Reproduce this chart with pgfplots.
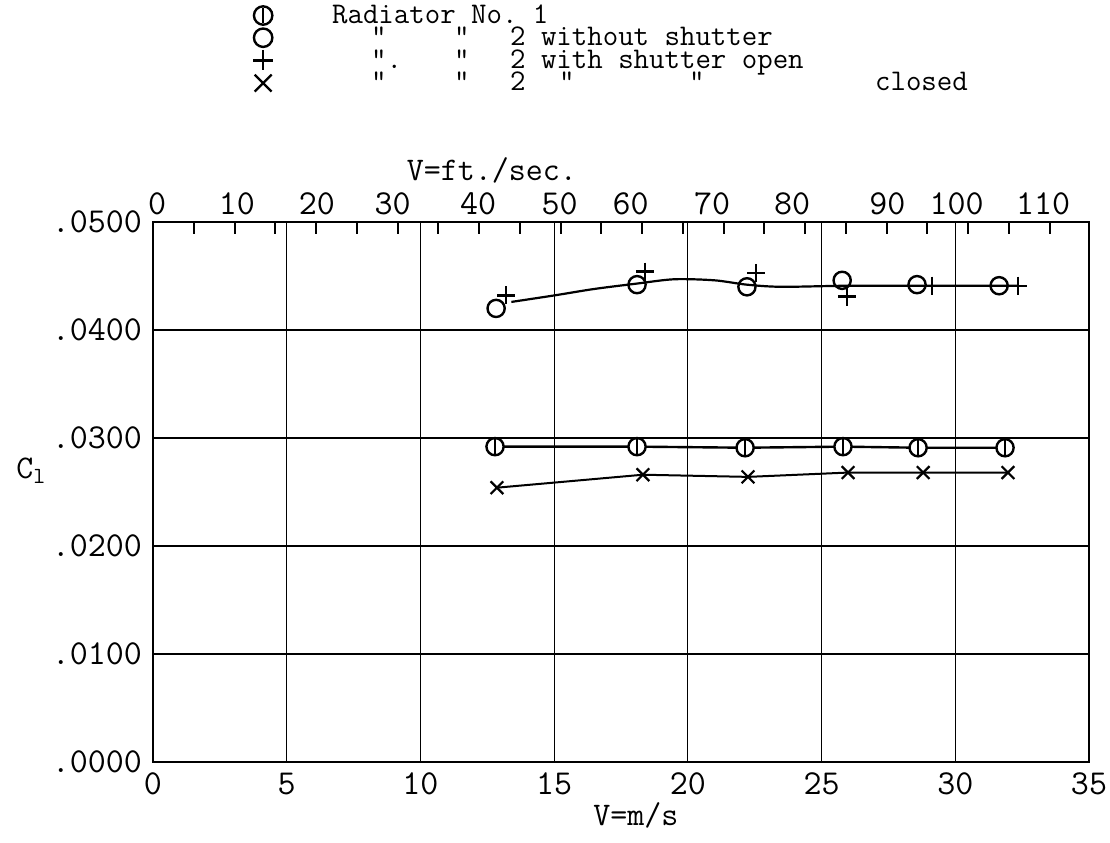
\documentclass[border=0pt]{standalone}
\usepackage{fontspec}
\usepackage{pgfplots}
\pgfplotsset{compat=1.18}
\pgfdeclareplotmark{radone}{%
 \pgfpathcircle{\pgfpointorigin}{\pgfplotmarksize}%
 \pgfusepathqfillstroke
 \pgfpathmoveto{\pgfqpoint{0pt}{-0.85\pgfplotmarksize}}%
 \pgfpathlineto{\pgfqpoint{0pt}{0.85\pgfplotmarksize}}%
 \pgfusepathqstroke}
\pgfplotsset{legmark/.style={legend image code/.code={\draw[##1] plot coordinates {(0pt,0pt)};}}}
\newcommand\at[2]{\makebox[0pt][l]{\hspace*{#1}#2}}
\newcommand\tk{\ttfamily\fontsize{17.5}{17.5}\selectfont}
\newcommand\lb{\ttfamily\fontsize{16.5}{16.5}\selectfont}
\newcommand\lgd{\ttfamily\fontsize{15}{15}\selectfont}
\begin{document}
\begin{tikzpicture}
\useasboundingbox (-76.5pt,-40pt) rectangle (478.5pt,381pt);
\begin{axis}[
  scale only axis, width=468pt, height=270pt,
  xmin=0, xmax=35, ymin=0, ymax=0.05,
  xtick={0,5,...,35}, ytick={0,0.01,0.02,0.03,0.04,0.05},
  xticklabels={0,5,10,15,20,25,30,35},
  yticklabels={.0000,.0100,.0200,.0300,.0400,.0500},
  scaled x ticks=false, scaled y ticks=false,
  major tick length=0pt,
  grid=major, grid style={black, line width=0.6pt},
  axis line style={line width=1.4pt},
  tick label style={font=\tk},
  xticklabel style={yshift=-2pt},
  yticklabel style={xshift=-2pt},
  xlabel={V=m/s}, xlabel style={font=\lb, at={(axis description cs:0.516,-0.098)}, anchor=center},
  ylabel={C\textsubscript{l}}, ylabel style={font=\lb, rotate=-90, at={(axis description cs:-0.13,0.54)}, anchor=center},
  legend style={draw=none, fill=none, at={(axis description cs:0.107,1.40)}, anchor=north west,
    inner sep=0pt, outer sep=0pt, row sep=1.6pt, font=\lgd,
    nodes={inner sep=0pt, text height=8.6pt, text depth=0.9pt},
    /tikz/every odd column/.append style={column sep=29pt}},
  legend cell align=left,
]
% faired curve radiator 2
\addplot[black, line width=1.1pt, smooth, forget plot] coordinates {
 (13.4,0.0426) (15,0.0432) (16.5,0.0438) (18.1,0.0443) (19.5,0.0447) (21,0.0446) (22.2,0.0442) (23.5,0.0440) (26,0.0441) (29,0.0441) (32.3,0.0441)};
% radiator 1
\addplot[black, line width=1.2pt, mark=radone, mark size=4.3pt, mark options={fill=white, line width=1.2pt}, forget plot] coordinates {
 (12.79,0.0292) (18.10,0.0292) (22.14,0.0291) (25.80,0.0292) (28.61,0.0291) (31.86,0.0291)};
% radiator 2 shutter closed
\addplot[black, line width=1.0pt, mark=x, mark size=4.5pt, mark options={line width=1.1pt}, forget plot] coordinates {
 (12.86,0.0254) (18.32,0.0266) (22.25,0.0264) (25.99,0.0268) (28.80,0.0268) (31.97,0.0268)};
% radiator 2 without shutter
\addplot[only marks, black, mark=o, mark size=4.3pt, mark options={fill=white, line width=1.2pt}, forget plot] coordinates {
 (12.83,0.0420) (18.10,0.0442) (22.21,0.0440) (25.77,0.0446) (28.57,0.0442) (31.64,0.0441)};
% radiator 2 shutter open
\addplot[only marks, black, mark=+, mark size=4.5pt, mark options={line width=1.2pt}, forget plot] coordinates {
 (13.20,0.0432) (18.40,0.0454) (22.55,0.0453) (25.95,0.0431) (29.13,0.0441) (32.35,0.0441)};
\addlegendimage{legmark, black, mark=radone, mark size=4.6pt, mark options={fill=white, line width=1.2pt}}
\addlegendentry{\at{0pt}{Radiator No.\ 1}}
\addlegendimage{legmark, black, mark=o, mark size=4.6pt, mark options={line width=1.2pt}}
\addlegendentry{\at{19.5pt}{"}\at{61pt}{"}\at{89pt}{2 without shutter}}
\addlegendimage{legmark, black, mark=+, mark size=5pt, mark options={line width=1.2pt}}
\addlegendentry{\at{19.5pt}{".}\at{61pt}{"}\at{89pt}{2 with shutter open}}
\addlegendimage{legmark, black, mark=x, mark size=6pt, mark options={line width=1.2pt}}
\addlegendentry{\at{19.5pt}{"}\at{61pt}{"}\at{89pt}{2}\at{113.5pt}{"}\at{178.5pt}{"}\at{271.5pt}{closed}}
\end{axis}
% top axis: ticks every 5 ft/s
\begin{axis}[
  scale only axis, width=468pt, height=270pt,
  xmin=0, xmax=114.829, ymin=0, ymax=1,
  axis x line*=top, hide y axis,
  xtick={5,10,...,110}, xticklabels={},
  major tick length=6pt,
  tick align=inside, tick style={black, line width=1pt},
  axis line style={line width=1.4pt},
]
\addplot[draw=none] coordinates {(0,0)};
\end{axis}
% top axis labels as placed on the original drawing
\begin{axis}[
  scale only axis, width=468pt, height=270pt,
  xmin=0, xmax=114.829, ymin=0, ymax=1,
  axis x line*=top, hide y axis,
  xtick={0.5,10.3,20.1,29.4,39.9,49.9,58.6,68.6,78.4,90.1,98.6,109.2},
  xticklabels={0,10,20,30,40,50,60,70,80,90,100,110},
  scaled x ticks=false,
  major tick length=0pt,
  axis line style={draw=none},
  tick label style={font=\tk},
  xlabel={V=ft./sec.}, xlabel style={font=\lb, at={(axis description cs:0.362,1.096)}, anchor=center},
]
\addplot[draw=none] coordinates {(0,0)};
\end{axis}
\end{tikzpicture}
\end{document}
